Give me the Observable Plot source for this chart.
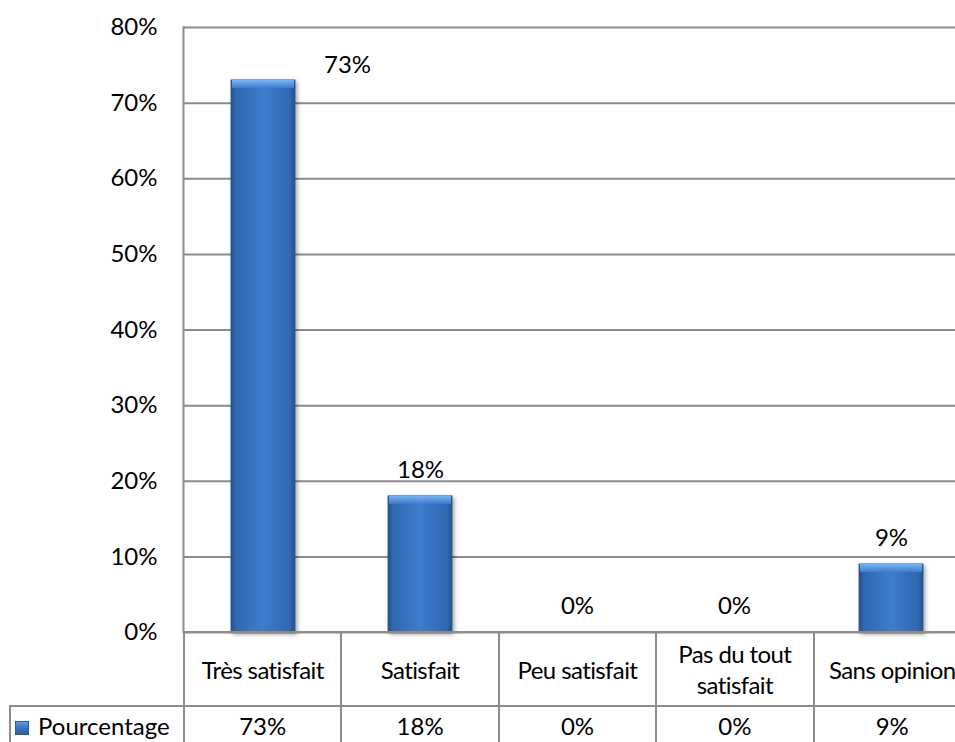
<!DOCTYPE html>
<html>
<head>
<meta charset="utf-8">
<script src="https://cdn.jsdelivr.net/npm/d3@7"></script>
<script src="https://cdn.jsdelivr.net/npm/@observablehq/plot@0.6"></script>
<style>
  html, body { margin: 0; padding: 0; background: #fff; overflow: hidden; }
  #chart { position: relative; width: 955px; height: 742px; overflow: hidden; font-family: Lato, "Open Sans", sans-serif; }
  #chart svg { position: absolute; left: 0; top: 0; overflow: hidden; }
  table.data { position: absolute; left: 9px; top: 631px; border-collapse: collapse; table-layout: fixed; font-size: 24px; color: #000; }
  table.data td { border: 2px solid #8c8c8c; text-align: center; padding: 0; line-height: 31px; }
  table.data tr.cats td { height: 72px; letter-spacing: -0.6px; }
  table.data tr.vals td { height: 40px; vertical-align: top; padding-top: 3px; }
  table.data td.blank { border-top: none; border-left: none; border-bottom: none; }
  table.data td.key { text-align: left; padding-left: 4px; white-space: nowrap; }
  .swatch { display: inline-block; width: 14px; height: 14px; margin-right: 9px; vertical-align: 0px;
            background: linear-gradient(180deg, #6aa5e6 0%, #3b76c4 45%, #2a5b9e 100%); box-shadow: inset 0 0 0 1px #2b5a98; }
</style>
</head>
<body>
<div id="chart"></div>
<script>
// Satisfaction survey: share of respondents per answer
const categories = ["Très satisfait", "Satisfait", "Peu satisfait", "Pas du tout satisfait", "Sans opinion"];
const categoryLines = [["Très satisfait"], ["Satisfait"], ["Peu satisfait"], ["Pas du tout", "satisfait"], ["Sans opinion"]];
const values = [0.73, 0.18, 0, 0, 0.09];
const yTicks = [0, 0.1, 0.2, 0.3, 0.4, 0.5, 0.6, 0.7, 0.8];
const seriesName = "Pourcentage";

const pct = d3.format(".0%");
const data = categories.map((c, i) => ({category: c, value: values[i]}));

const chart = Plot.plot({
  width: 955,
  height: 742,
  marginLeft: 183,
  marginRight: 0,
  marginTop: 27,
  marginBottom: 110,
  style: {fontFamily: "Lato, 'Open Sans', sans-serif", fontSize: "24px", color: "#000", background: "transparent"},
  x: {domain: categories, range: [183, 970], paddingInner: 0.593, paddingOuter: 0.2965, axis: null},
  y: {domain: [0, 0.8], ticks: yTicks, tickFormat: pct, tickSize: 0, tickPadding: 26, label: null, grid: false},
  marks: [
    Plot.ruleY(yTicks, {stroke: "#8c8c8c", strokeWidth: 2}),
    Plot.frame({anchor: "left", stroke: "#8c8c8c", strokeWidth: 2}),
    // bar bodies
    Plot.barY(data.filter(d => d.value > 0), {x: "category", y: "value", fill: "url(#barBody)",
      stroke: "#2a5796", strokeWidth: 0.8, className: "bars"}),
    // top chamfer of each bar
    Plot.rect(data.filter(d => d.value > 0), {x: "category", y1: "value", y2: "value",
      insetBottom: -8, insetLeft: 1, insetRight: 1, fill: "url(#barTop)"}),
    // value labels above the bars
    Plot.text(data.filter(d => d.value < 0.7), {x: "category", y: "value", text: d => pct(d.value),
      dy: -26, fill: "#000"}),
    Plot.text(data.filter(d => d.value >= 0.7), {x: "category", y: "value", text: d => pct(d.value),
      dx: 84, dy: -15, fill: "#000"})
  ]
});

// gradients used by the bars
const defs = d3.select(chart).insert("defs", ":first-child");
const bodyGrad = defs.append("linearGradient").attr("id", "barBody").attr("x1", 0).attr("x2", 1).attr("y1", 0).attr("y2", 0);
[[0, "#23508c"], [0.08, "#3068b0"], [0.5, "#3d7cce"], [0.92, "#3068b0"], [1, "#23508c"]]
  .forEach(([o, c]) => bodyGrad.append("stop").attr("offset", o).attr("stop-color", c));
const topGrad = defs.append("linearGradient").attr("id", "barTop").attr("x1", 0).attr("x2", 0).attr("y1", 0).attr("y2", 1);
[[0, "#7db4f0"], [0.5, "#5b97e0"], [1, "#3f7ccc"]].forEach(([o, c]) => topGrad.append("stop").attr("offset", o).attr("stop-color", c));
d3.select(chart).selectAll(".bars").style("filter", "drop-shadow(2px 2px 2px rgba(0,0,0,0.35))");

const root = document.getElementById("chart");
root.appendChild(chart);

// data table under the axis
const table = document.createElement("table");
table.className = "data";
const colgroup = document.createElement("colgroup");
[174, 157.4, 157.4, 157.4, 157.4, 157.4].forEach(w => {
  const col = document.createElement("col");
  col.style.width = w + "px";
  colgroup.appendChild(col);
});
table.appendChild(colgroup);
table.style.width = (174 + 5 * 157.4) + "px";

const catRow = table.insertRow();
catRow.className = "cats";
const blank = catRow.insertCell();
blank.className = "blank";
categoryLines.forEach(lines => {
  const td = catRow.insertCell();
  td.innerHTML = lines.join("<br>");
});

const valRow = table.insertRow();
valRow.className = "vals";
const key = valRow.insertCell();
key.className = "key";
key.innerHTML = '<span class="swatch"></span>' + seriesName;
values.forEach(v => {
  const td = valRow.insertCell();
  td.textContent = pct(v);
});
root.appendChild(table);
</script>
</body>
</html>
